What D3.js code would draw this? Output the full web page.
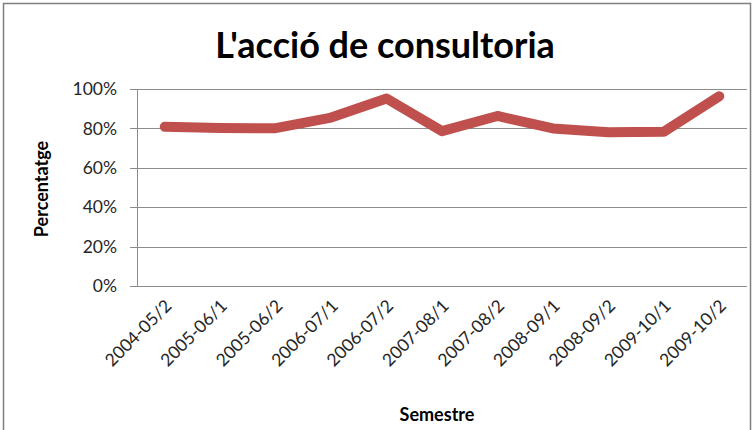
<!DOCTYPE html>
<html>
<head>
<meta charset="utf-8">
<script src="https://cdn.jsdelivr.net/npm/d3@7"></script>
<style>
  body { margin: 0; background: #fff; }
  svg { display: block; font-family: Lato, "Open Sans", sans-serif; }
  .grid-line { stroke: #8c8c8c; stroke-width: 1; shape-rendering: crispEdges; }
  .axis-line { stroke: #8c8c8c; stroke-width: 1; shape-rendering: crispEdges; }
  .tick-label { font-size: 17.5px; fill: #262626; }
  .path-line { fill: none; stroke: #c0504d; stroke-width: 10; stroke-linejoin: round; stroke-linecap: round; }
</style>
</head>
<body>
<svg width="754" height="430"></svg>
<script>
'use strict';

var SEMESTRES = ['2004-05/2', '2005-06/1', '2005-06/2', '2006-07/1', '2006-07/2', '2007-08/1',
                 '2007-08/2', '2008-09/1', '2008-09/2', '2009-10/1', '2009-10/2'];
var PERCENTATGE = [80.8, 80.2, 80.1, 85.5, 95.2, 78.6, 86.3, 80.0, 78.0, 78.3, 96.3];
var Y_TICKS = [0, 20, 40, 60, 80, 100];

var svg = d3.select('svg');
var width = 754, height = 430;
var margin = { top: 89, right: 7, bottom: 144, left: 137 };
var innerWidth = width - margin.left - margin.right;
var innerHeight = height - margin.top - margin.bottom;

// outer chart border (bottom edge falls below the picture)
svg.append('path')
  .attr('d', 'M3.5,430 V3.5 H750.5 V430')
  .attr('fill', 'none').attr('stroke', '#7f7f7f').attr('stroke-width', 1.5);

var xScale = d3.scaleBand().domain(SEMESTRES).range([0, innerWidth]);
var yScale = d3.scaleLinear().domain([0, 100]).range([innerHeight, 0]);

var inner = svg.append('g').attr('transform', 'translate(' + margin.left + ',' + margin.top + ')');

// horizontal grid lines with small ticks on the left
inner.selectAll('.grid-line').data(Y_TICKS).enter().append('line')
  .attr('class', 'grid-line')
  .attr('x1', -7).attr('x2', innerWidth)
  .attr('y1', function (d) { return Math.round(yScale(d)) + 0.5; })
  .attr('y2', function (d) { return Math.round(yScale(d)) + 0.5; });

inner.append('line').attr('class', 'axis-line')
  .attr('x1', 0.5).attr('x2', 0.5)
  .attr('y1', 0).attr('y2', innerHeight);

inner.selectAll('.y-label').data(Y_TICKS).enter().append('text')
  .attr('class', 'tick-label y-label')
  .attr('x', -20)
  .attr('y', function (d) { return yScale(d); })
  .attr('dy', '0.35em')
  .attr('text-anchor', 'end')
  .text(function (d) { return d + '%'; });

inner.selectAll('.x-label').data(SEMESTRES).enter().append('text')
  .attr('class', 'tick-label x-label')
  .attr('text-anchor', 'end')
  .attr('transform', function (d) {
    return 'translate(' + (xScale(d) + xScale.bandwidth() / 2 + 8) + ',' + (innerHeight + 21) + ') rotate(-45)';
  })
  .text(function (d) { return d; });

var line = d3.line()
  .x(function (d, i) { return xScale(SEMESTRES[i]) + xScale.bandwidth() / 2; })
  .y(function (d) { return yScale(d); });

inner.append('path').attr('class', 'path-line').attr('d', line(PERCENTATGE));

svg.append('text')
  .attr('x', 385).attr('y', 58)
  .attr('text-anchor', 'middle')
  .style('font-size', '36px').style('font-weight', 'bold')
  .text("L'acció de consultoria");

svg.append('text')
  .attr('transform', 'translate(48,189) rotate(-90)')
  .attr('text-anchor', 'middle')
  .style('font-size', '18px').style('font-weight', 'bold')
  .text('Percentatge');

svg.append('text')
  .attr('x', 437).attr('y', 421)
  .attr('text-anchor', 'middle')
  .style('font-size', '18px').style('font-weight', 'bold')
  .text('Semestre');
</script>
</body>
</html>
